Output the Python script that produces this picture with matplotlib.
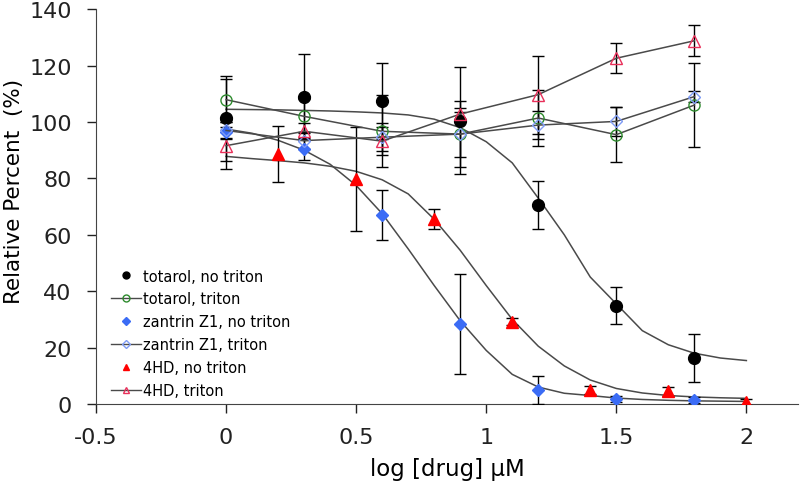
import matplotlib
matplotlib.use('Agg')
import matplotlib.pyplot as plt
from matplotlib.lines import Line2D

# measured points (log concentration)
x_main = [0, 0.3, 0.6, 0.9, 1.2, 1.5, 1.8]
x_4hd = [0.2, 0.5, 0.8, 1.1, 1.4, 1.7, 2.0]

tot_no = [101.3, 109.0, 107.3, 100.5, 70.6, 34.9, 16.3]
tot_no_err = [15.0, 15.0, 13.5, 19.0, 8.5, 6.5, 8.4]
tot_tr = [107.9, 102.0, 96.7, 95.7, 101.4, 95.5, 106.0]
tot_tr_err = [7.3, 6.0, 12.7, 8.0, 10.0, 9.7, 15.0]

z1_no = [96.3, 90.4, 67.0, 28.4, 5.0, 1.8, 1.4]
z1_no_err = [2.0, 4.0, 9.0, 17.7, 5.0, 1.0, 1.0]
z1_tr = [97.0, 93.4, 94.6, 95.7, 98.9, 100.2, 109.0]
z1_tr_err = [3.0, 3.0, 5.0, 11.7, 4.9, 5.0, 2.0]

hd_no = [88.6, 79.8, 65.6, 29.2, 5.0, 4.5, 0.8]
hd_no_err = [10.0, 18.3, 3.6, 1.2, 1.5, 1.5, 1.0]
hd_tr = [91.6, 96.7, 93.2, 102.8, 109.7, 122.6, 128.8]
hd_tr_err = [8.3, 3.0, 5.0, 2.0, 13.8, 5.3, 5.5]

# fitted curves
x_fit = [0, 0.1, 0.2, 0.3, 0.4, 0.5, 0.6, 0.7, 0.8, 0.9, 1.0,
         1.1, 1.2, 1.3, 1.4, 1.5, 1.6, 1.7, 1.8, 1.9, 2.0]
tot_fit = [104.5, 104.4, 104.3, 104.1, 103.9, 103.6, 103.2, 102.5, 101.0, 98.0, 93.0,
           85.5, 73.0, 60.0, 45.0, 35.5, 26.0, 21.0, 18.0, 16.3, 15.4]
z1_fit = [97.5, 96.0, 93.5, 90.0, 85.0, 77.5, 67.5, 55.0, 42.0, 29.5, 19.0,
          10.5, 6.0, 3.8, 3.0, 2.1, 1.6, 1.3, 1.1, 1.0, 0.9]
hd_fit = [87.8, 87.0, 86.3, 85.5, 84.3, 82.5, 79.5, 74.5, 65.5, 54.5, 42.0,
          30.0, 20.5, 13.5, 8.5, 5.5, 3.9, 3.0, 2.5, 2.2, 2.0]

line_c = '#4a4a4a'
green = '#2e8b2e'
blue = '#3b6cf5'
lblue = '#7f9cf5'
red = '#ff0000'
pink = '#e8305a'

fig = plt.figure(figsize=(8, 4.85), dpi=100)
ax = fig.add_axes([0.12, 0.165, 0.878, 0.814])

# fit curves
for yf in (tot_fit, z1_fit, hd_fit):
    ax.plot(x_fit, yf, color=line_c, lw=1.1, zorder=1)

eb = dict(ecolor='black', elinewidth=1, capsize=4, capthick=1)

ax.errorbar(x_main, tot_no, yerr=tot_no_err, fmt='o', color='black', ms=8.5, zorder=3, **eb)
ax.errorbar(x_main, tot_tr, yerr=tot_tr_err, fmt='-o', color=line_c, mfc='none',
            mec=green, ms=8, mew=1, lw=1.1, zorder=3, **eb)
ax.errorbar(x_main, z1_no, yerr=z1_no_err, fmt='D', color=blue, ms=6.5, zorder=3, **eb)
ax.errorbar(x_main, z1_tr, yerr=z1_tr_err, fmt='-D', color=line_c, mfc='none',
            mec=lblue, ms=6.5, mew=1, lw=1.1, zorder=3, **eb)
ax.errorbar(x_4hd, hd_no, yerr=hd_no_err, fmt='^', color=red, ms=8.5, zorder=3, **eb)
ax.errorbar(x_main, hd_tr, yerr=hd_tr_err, fmt='-^', color=line_c, mfc='none',
            mec=pink, ms=8, mew=1, lw=1.1, zorder=3, **eb)

ax.set_xlim(-0.5, 2.2)
ax.set_ylim(0, 140)
ax.set_xticks([-0.5, 0, 0.5, 1, 1.5, 2])
ax.set_xticklabels(['-0.5', '0', '0.5', '1', '1.5', '2'])
ax.set_yticks(range(0, 141, 20))
ax.tick_params(labelsize=16, direction='out', length=6.5, width=1, colors='#222222')
ax.tick_params(axis='x', pad=10)
ax.tick_params(axis='y', pad=11)
ax.spines['top'].set_visible(False)
ax.spines['right'].set_visible(False)
for s in ('left', 'bottom'):
    ax.spines[s].set_color('#444444')

ax.set_xlabel('log [drug] μM', fontsize=16.5)
ax.xaxis.set_label_coords(0.5, -0.135)
ax.set_ylabel('Relative Percent  (%)', fontsize=15.5)
ax.yaxis.set_label_coords(-0.103, 0.54)

handles = [
    Line2D([], [], ls='none', marker='o', color='black', ms=5),
    Line2D([], [], color=line_c, lw=1, marker='o', mfc='none', mec=green, ms=5),
    Line2D([], [], ls='none', marker='D', color=blue, ms=4),
    Line2D([], [], color=line_c, lw=1, marker='D', mfc='none', mec=lblue, ms=4),
    Line2D([], [], ls='none', marker='^', color=red, ms=5),
    Line2D([], [], color=line_c, lw=1, marker='^', mfc='none', mec=pink, ms=5),
]
labels = ['totarol, no triton', 'totarol, triton', 'zantrin Z1, no triton',
          'zantrin Z1, triton', '4HD, no triton', '4HD, triton']
ax.legend(handles, labels, loc='upper left', bbox_to_anchor=(0.022, 0.343),
          frameon=False, fontsize=10.5, handlelength=2.0, handletextpad=0.15,
          labelspacing=0.54, borderaxespad=0, borderpad=0)

fig.savefig('out.png', dpi=100)
